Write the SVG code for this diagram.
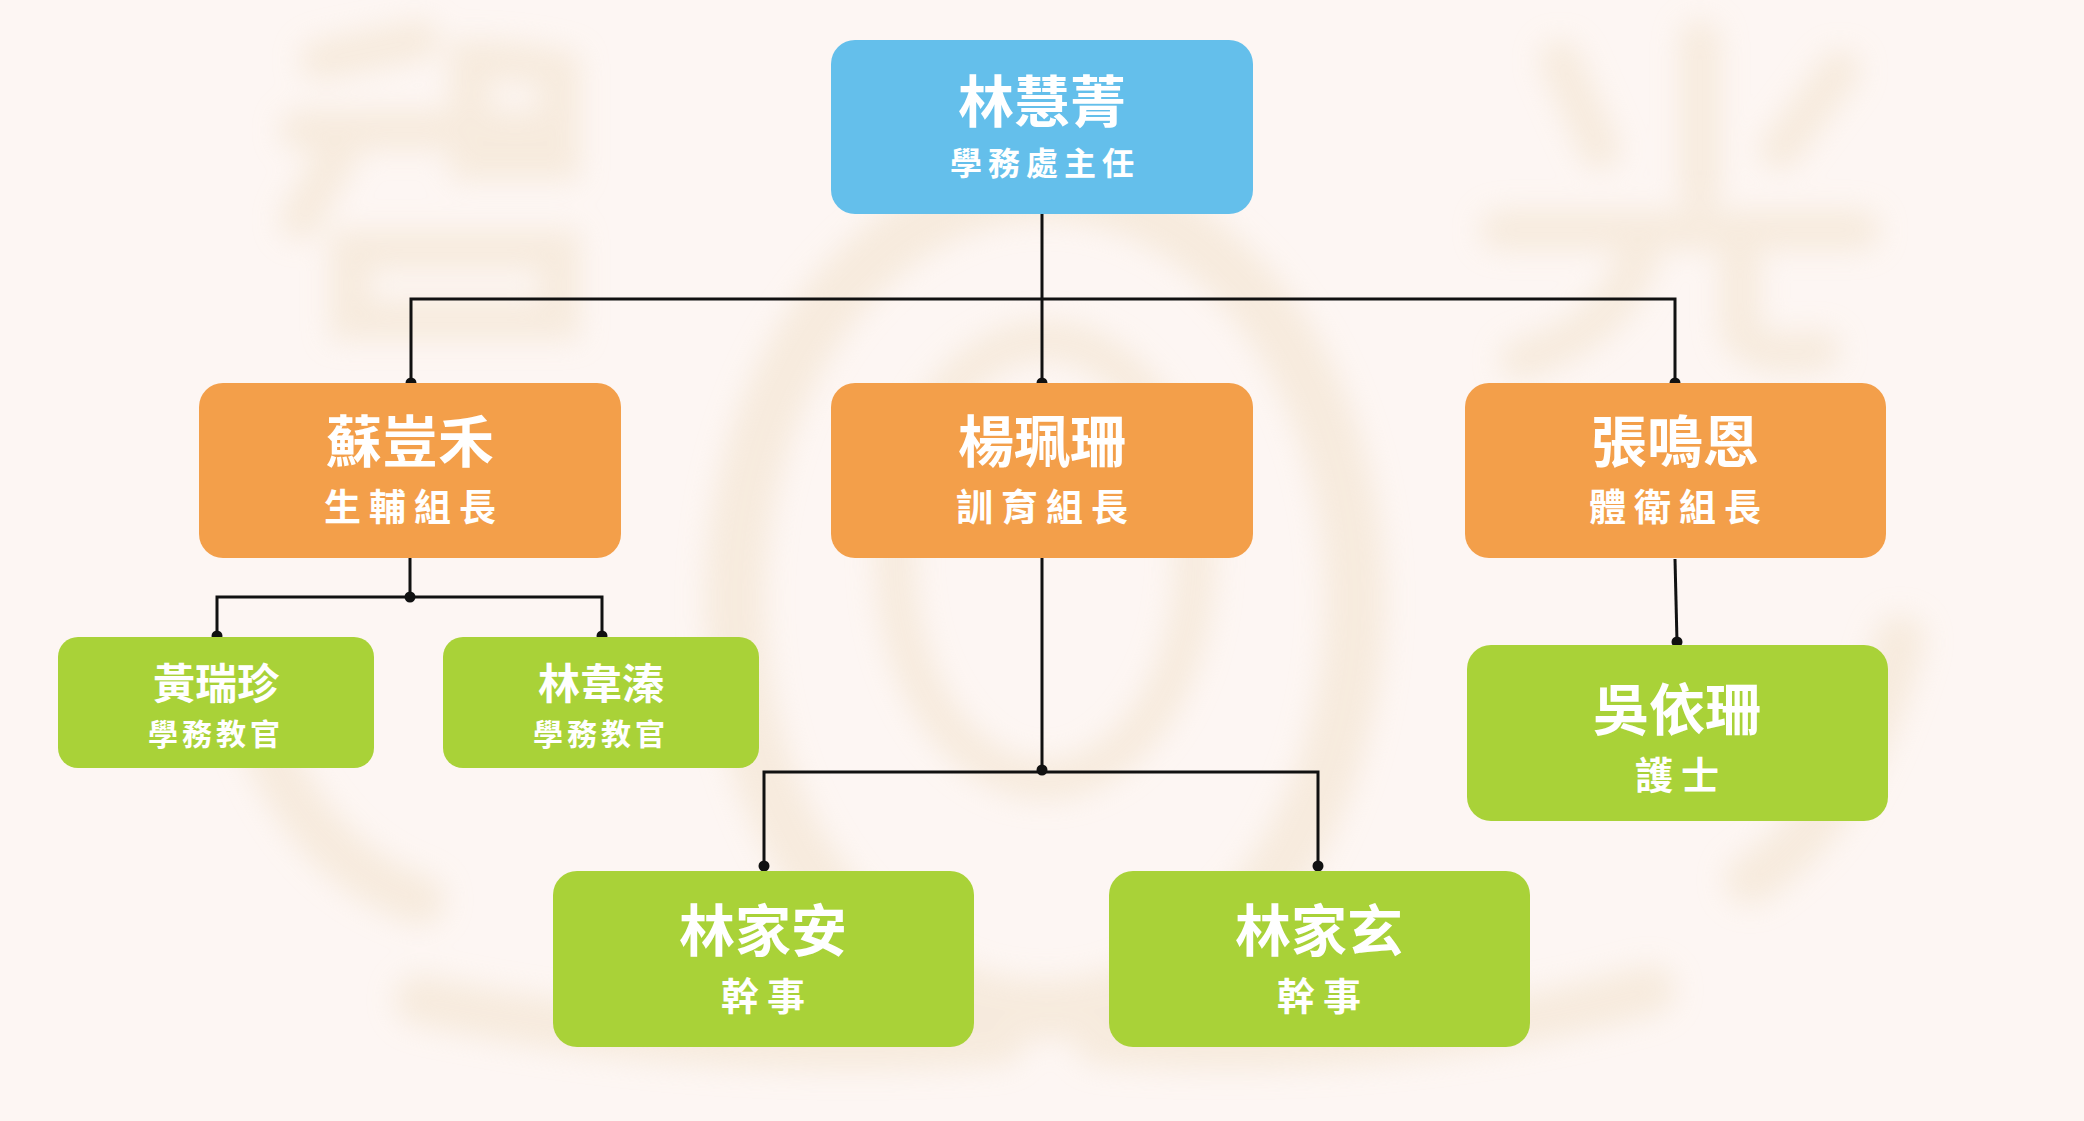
<svg xmlns="http://www.w3.org/2000/svg" width="2084" height="1121" viewBox="0 0 2084 1121">
<defs>
<style>
.name{font-family:"Noto Sans CJK TC","Noto Sans CJK SC",sans-serif;font-weight:700;fill:#fff;text-anchor:middle}
.role{font-family:"Noto Sans CJK TC","Noto Sans CJK SC",sans-serif;font-weight:700;fill:#fff;text-anchor:middle}
.blue{fill:#64BFEB}
.orange{fill:#F39F4A}
.green{fill:#A9D238}
.wire{stroke:#111;stroke-width:3;fill:none}
.dot{fill:#111}
.wm{fill:none;stroke:#F2E2CC;stroke-linecap:round}
</style>
<filter id="blur" x="-30%" y="-30%" width="160%" height="160%"><feGaussianBlur stdDeviation="14"/></filter>
</defs>
<rect width="2084" height="1121" fill="#FDF6F3"/>
<g id="watermark" filter="url(#blur)" opacity="0.55">
<path class="wm" stroke-width="40" d="M320 60 L420 40 M300 130 H560 M340 150 L300 220 M470 60 Q520 60 560 70 V160 H470 Z M350 250 H560 V320 H350 Z"/>
<path class="wm" stroke-width="40" d="M1560 60 L1600 150 M1700 40 V190 M1840 70 L1780 150 M1500 230 H1860 M1640 250 Q1620 330 1520 360 M1740 250 V330 Q1750 360 1820 350"/>
<ellipse class="wm" cx="1045" cy="600" rx="310" ry="410" stroke-width="60"/>
<ellipse class="wm" cx="1045" cy="560" rx="150" ry="220" stroke-width="40"/>
<path class="wm" stroke-width="50" d="M250 700 Q300 860 420 900 M1900 640 Q1850 820 1750 880 M420 1000 Q700 1060 1000 1040 M1100 1040 Q1400 1060 1650 990"/>
</g>
<g id="connectors">
<path class="wire" d="M1042 214 V383 M411 383 V299 H1675 V383"/>
<path class="wire" d="M410 558 V597 M217 637 V597 H602 V637"/>
<path class="wire" d="M1042 558 V772 M764 868 V772 H1318 V868"/>
<path class="wire" d="M1675 559 L1677 642"/>
<circle class="dot" cx="411" cy="383" r="5.5"/>
<circle class="dot" cx="1042" cy="383" r="5.5"/>
<circle class="dot" cx="1675" cy="383" r="5.5"/>
<circle class="dot" cx="410" cy="597" r="5.5"/>
<circle class="dot" cx="217" cy="636" r="5.5"/>
<circle class="dot" cx="602" cy="636" r="5.5"/>
<circle class="dot" cx="1042" cy="770" r="5.5"/>
<circle class="dot" cx="764" cy="866" r="5.5"/>
<circle class="dot" cx="1318" cy="866" r="5.5"/>
<circle class="dot" cx="1677" cy="642" r="5.5"/>
</g>
<g id="n-lin-huijing">
<rect class="blue" x="831" y="40" width="422" height="174" rx="24"/>
<text class="name" x="1042" y="122" font-size="56">林慧菁</text>
<text class="role" x="1045" y="175" font-size="32" letter-spacing="6">學務處主任</text>
</g>
<g id="n-su">
<rect class="orange" x="199" y="383" width="422" height="175" rx="24"/>
<text class="name" x="410" y="462" font-size="56">蘇豈禾</text>
<text class="role" x="414" y="521" font-size="37" letter-spacing="8">生輔組長</text>
</g>
<g id="n-yang">
<rect class="orange" x="831" y="383" width="422" height="175" rx="24"/>
<text class="name" x="1042" y="462" font-size="56">楊珮珊</text>
<text class="role" x="1046" y="521" font-size="37" letter-spacing="8">訓育組長</text>
</g>
<g id="n-zhang">
<rect class="orange" x="1465" y="383" width="421" height="175" rx="24"/>
<text class="name" x="1675" y="462" font-size="56">張鳴恩</text>
<text class="role" x="1679" y="521" font-size="37" letter-spacing="8">體衛組長</text>
</g>
<g id="n-huang">
<rect class="green" x="58" y="637" width="316" height="131" rx="20"/>
<text class="name" x="216" y="699" font-size="42">黃瑞珍</text>
<text class="role" x="216" y="745" font-size="30" letter-spacing="4">學務教官</text>
</g>
<g id="n-lin-weizhen">
<rect class="green" x="443" y="637" width="316" height="131" rx="20"/>
<text class="name" x="601" y="699" font-size="42">林韋溱</text>
<text class="role" x="601" y="745" font-size="30" letter-spacing="4">學務教官</text>
</g>
<g id="n-wu">
<rect class="green" x="1467" y="645" width="421" height="176" rx="24"/>
<text class="name" x="1677" y="730" font-size="56">吳依珊</text>
<text class="role" x="1681" y="789" font-size="38" letter-spacing="8">護士</text>
</g>
<g id="n-lin-jiaan">
<rect class="green" x="553" y="871" width="421" height="176" rx="24"/>
<text class="name" x="763" y="951" font-size="56">林家安</text>
<text class="role" x="767" y="1010" font-size="38" letter-spacing="8">幹事</text>
</g>
<g id="n-lin-jiaxuan">
<rect class="green" x="1109" y="871" width="421" height="176" rx="24"/>
<text class="name" x="1319" y="951" font-size="56">林家玄</text>
<text class="role" x="1323" y="1010" font-size="38" letter-spacing="8">幹事</text>
</g>
</svg>
